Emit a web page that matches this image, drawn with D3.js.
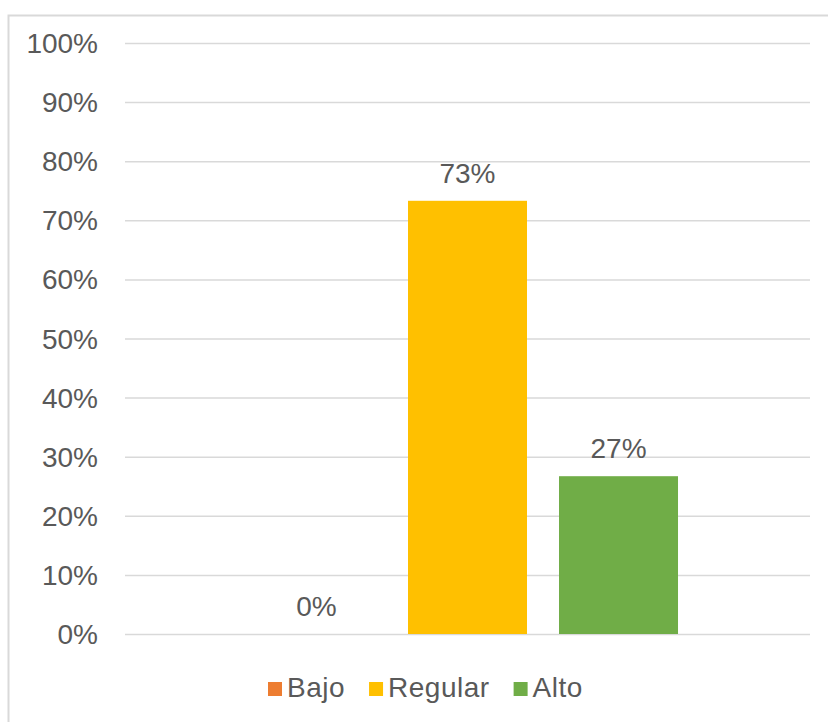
<!DOCTYPE html>
<html>
<head>
<meta charset="utf-8">
<script src="https://cdn.jsdelivr.net/npm/d3@7"></script>
<style>
  body { margin: 0; background: #fff; }
  text { font-family: "Liberation Sans", Arial, sans-serif; fill: #595959; }
</style>
</head>
<body>
<div id="canvas"></div>
<script>
/* chart data */
let series = ["Bajo", "Regular", "Alto"];
let values = [0, 0.733, 0.267];
let colors = ["#ED7D31", "#FFC000", "#70AD47"];
let yTicks = [0, 0.1, 0.2, 0.3, 0.4, 0.5, 0.6, 0.7, 0.8, 0.9, 1];

/* drawing config */
let svgWidth = 828;
let svgHeight = 722;
let plotLeft = 125, plotRight = 810;
let plotTop = 43, plotBottom = 634;
let fontSize = 28;

let svg = d3.select("#canvas")
    .append("svg")
    .attr("width", svgWidth)
    .attr("height", svgHeight);

// chart border (right/bottom run off the picture)
svg.append("rect")
    .attr("x", 8.5).attr("y", 15.5)
    .attr("width", 900).attr("height", 900)
    .attr("fill", "none")
    .attr("stroke", "#d9d9d9")
    .attr("stroke-width", 2);

let xScale = d3.scaleBand()
    .domain(series)
    .range([plotLeft, plotRight])
    .paddingInner(0.212)
    .paddingOuter(0.874);

let yScale = d3.scaleLinear()
    .domain([0, 1])
    .range([plotBottom, plotTop]);

// gridlines + tick labels
let yAxis = d3.axisLeft(yScale)
    .tickValues(yTicks)
    .tickFormat(d3.format(".0%"))
    .tickSize(-(plotRight - plotLeft))
    .tickPadding(27);

let gy = svg.append("g")
    .attr("transform", `translate(${plotLeft},0)`)
    .call(yAxis);
gy.select(".domain").remove();
gy.selectAll(".tick line")
    .attr("stroke", "#d9d9d9")
    .attr("stroke-width", 1.5);
gy.selectAll(".tick text")
    .attr("font-size", fontSize)
    .attr("dy", "0.34em")
    .style("font-family", "'Liberation Sans', Arial, sans-serif")
    .attr("fill", "#595959");

// bars
svg.selectAll(".bar")
    .data(series)
    .enter()
    .append("rect")
    .attr("class", "bar")
    .attr("x", d => xScale(d))
    .attr("width", xScale.bandwidth())
    .attr("y", (d, i) => yScale(values[i]))
    .attr("height", (d, i) => yScale(0) - yScale(values[i]))
    .attr("fill", (d, i) => colors[i]);

// value labels
svg.selectAll(".lbl")
    .data(series)
    .enter()
    .append("text")
    .attr("class", "lbl")
    .attr("x", d => xScale(d) + xScale.bandwidth() / 2)
    .attr("y", (d, i) => yScale(values[i]) - 18)
    .attr("text-anchor", "middle")
    .attr("font-size", fontSize)
    .text((d, i) => Math.round(values[i] * 100) + "%");

// legend
let lx = 268;
let legendY = 689;
series.forEach(function(s, i) {
    svg.append("rect")
        .attr("x", lx).attr("y", legendY - 7)
        .attr("width", 14).attr("height", 14)
        .attr("fill", colors[i]);
    let t = svg.append("text")
        .attr("x", lx + 19)
        .attr("y", legendY)
        .attr("dy", "0.28em")
        .attr("font-size", fontSize)
        .attr("letter-spacing", 0.5)
        .text(s);
    lx = lx + 19 + t.node().getComputedTextLength() + 24;
});
</script>
</body>
</html>
